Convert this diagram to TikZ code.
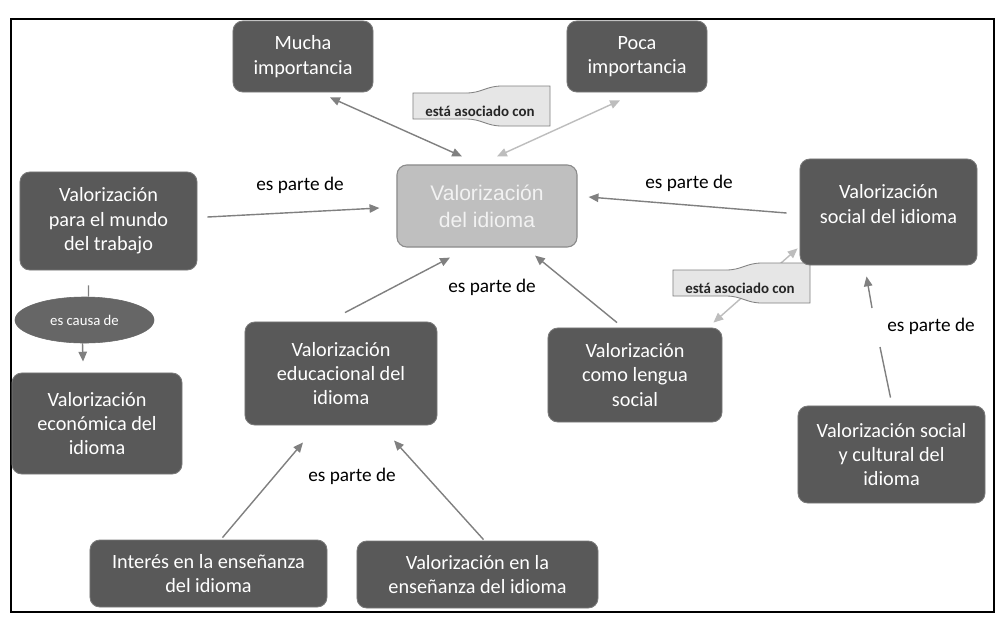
\documentclass[tikz,border=0pt]{standalone}
\usepackage{fontspec}
\setmainfont{Carlito}
\newfontfamily\arialfont{Liberation Sans}
\usetikzlibrary{positioning, shapes.geometric, arrows.meta, calc, backgrounds}
\definecolor{mapDark}{HTML}{595959}
\definecolor{mapOval}{HTML}{666666}
\definecolor{mapCenter}{HTML}{BFBFBF}
\definecolor{mapCenterLine}{HTML}{8C8C8C}
\definecolor{mapCenterText}{HTML}{F2F2F2}
\definecolor{mapArrow}{HTML}{808080}
\definecolor{mapArrowSoft}{HTML}{BDBDBD}
\definecolor{mapBanner}{HTML}{E6E6E6}

% wavy flag round a linking phrase
\newcommand{\bannerOutline}[1]{%
  \draw[cmBannerLine] ($(#1)+(-1.675cm,0.45cm)$) -- ($(#1)+(-0.35cm,0.45cm)$)
    .. controls ($(#1)+(0.05cm,0.45cm)$) and ($(#1)+(0.15cm,0.625cm)$) .. ($(#1)+(0.55cm,0.625cm)$)
    -- ($(#1)+(1.75cm,0.625cm)$) -- ($(#1)+(1.75cm,-0.375cm)$) -- ($(#1)+(0.55cm,-0.375cm)$)
    .. controls ($(#1)+(0.15cm,-0.375cm)$) and ($(#1)+(0.05cm,-0.2cm)$) .. ($(#1)+(-0.35cm,-0.2cm)$)
    -- ($(#1)+(-1.675cm,-0.2cm)$) -- cycle;}

\begin{document}
\begin{tikzpicture}[
    x=0.025cm, y=-0.025cm,
    >={Triangle[length=7pt,width=6pt]},
    cmBox/.style={draw=mapDark!80!white, line width=0.6pt, rectangle, rounded corners=7pt, fill=mapDark, text=white, align=center, font=\fontsize{14.4}{17.4}\selectfont},
    cmCenter/.style={draw=mapCenterLine, line width=0.8pt, rectangle, rounded corners=7pt, fill=mapCenter, text=mapCenterText, align=center, font=\arialfont\fontsize{15}{19}\selectfont},
    cmOval/.style={draw=mapOval, ellipse, fill=mapOval, text=white, inner sep=0pt, font=\fontsize{10.5}{12}\selectfont},
    cmLabel/.style={font=\fontsize{13.7}{16}\selectfont, text=black},
    cmBannerText/.style={font=\bfseries\fontsize{10.6}{12}\selectfont, text=black!85, inner sep=1pt},
    cmBannerLine/.style={draw=mapArrow, line width=0.6pt, fill=mapBanner},
    cmArrow/.style={draw=mapArrow, line width=1pt},
    cmArrowSoft/.style={draw=mapArrowSoft, line width=1pt},
]
\useasboundingbox (0,0) rectangle (1006,641);
\draw[line width=1.2pt] (11,19) rectangle (994,612);
% concepts
\node[cmBox, minimum width=3.5cm, minimum height=1.775cm] (mucha) at (303,56.5) {Mucha\\importancia};
\node[cmBox, minimum width=3.5cm, minimum height=1.775cm] (poca) at (637,56.5) {Poca\\importancia};
\node[cmCenter, minimum width=4.5cm, minimum height=2.05cm] (centro) at (487,206) {Valorización\\del idioma};
\node[cmBox, minimum width=4.425cm, minimum height=2.45cm] (trabajo) at (108.5,221) {Valorización\\para el mundo\\del trabajo};
\node[cmOval, minimum width=3.475cm, minimum height=1.15cm] (causa) at (84.5,320) {es causa de};
\node[cmBox, minimum width=4.25cm, minimum height=2.525cm] (econ) at (97,423.5) {Valorización\\económica del\\idioma};
\node[cmBox, minimum width=4.8cm, minimum height=2.575cm] (educ) at (341,373.5) {Valorización\\educacional del\\idioma};
\node[cmBox, minimum width=4.35cm, minimum height=2.35cm] (lengua) at (635,375) {Valorización\\como lengua\\social};
\node[cmBox, minimum width=4.425cm, minimum height=2.65cm, text depth=0.4cm] (social) at (888.5,212) {Valorización\\social del idioma};
\node[cmBox, minimum width=4.675cm, minimum height=2.425cm] (cultural) at (891.5,454.5) {Valorización social\\y cultural del\\idioma};
\node[cmBox, minimum width=5.925cm, minimum height=1.675cm] (interes) at (208.5,573.5) {Interés en la enseñanza\\del idioma};
\node[cmBox, minimum width=6.025cm, minimum height=1.675cm] (ensen) at (477.5,574.5) {Valorización en la\\enseñanza del idioma};
% linking phrases
\node[cmBannerText] (asocA) at (480,111) {está asociado con};
\node[cmBannerText] (asocB) at (740,288) {está asociado con};
\node[cmLabel] (lblTrabajo) at (300,185) {es parte de};
\node[cmLabel] (lblSocial) at (689,183) {es parte de};
\node[cmLabel] (lblCentro) at (492,287) {es parte de};
\node[cmLabel] (lblCultural) at (931,326) {es parte de};
\node[cmLabel] (lblEduc) at (352,476) {es parte de};
\coordinate (gapLow) at (880,347);
\coordinate (gapHigh) at (872,308);
% connectors
\begin{scope}[on background layer]
\fill[white] (0,0) rectangle (1006,641);
\draw[cmArrow, <->] ([shift={(0.675cm,-0.125cm)}]mucha.south) -- ([shift={(-0.625cm,0.2cm)}]centro.north);
\draw[cmArrowSoft, <->] ([shift={(-0.425cm,-0.2cm)}]poca.south) -- ([shift={(0.25cm,0.2cm)}]centro.north);
\draw[cmArrow, ->] ([shift={(0.25cm,0.1cm)}]trabajo.east) -- ([shift={(-0.425cm,-0.05cm)}]centro.west);
\draw[cmArrow, ->] ([shift={(-0.325cm,-0.025cm)}]social.west) -- ([shift={(0.275cm,0.225cm)}]centro.east);
\draw[cmArrow, ->] ([shift={(-0.45cm,0.125cm)}]lengua.north) -- ([shift={(1.2cm,-0.2cm)}]centro.south);
\draw[cmArrow, ->] ([shift={(0.1cm,0.225cm)}]educ.north) -- ([shift={(-0.925cm,-0.25cm)}]centro.south);
\draw[cmArrow, ->] ([shift={(0.35cm,0.05cm)}]interes.north) -- ([shift={(-0.95cm,-0.425cm)}]educ.south);
\draw[cmArrow, ->] ([shift={(0.15cm,0.025cm)}]ensen.north) -- ([shift={(1.325cm,-0.375cm)}]educ.south);
\draw[cmArrow] ([shift={(-0.5cm,-0.375cm)}]trabajo.south) -- ([xshift=0.1cm]causa.north);
\draw[cmArrow, ->] ([xshift=-0.05cm]causa.south) -- ([shift={(-0.35cm,0.275cm)}]econ.north);
\draw[cmArrow] ([shift={(-0.025cm,0.2cm)}]cultural.north) -- (gapLow);
\draw[cmArrow, ->] (gapHigh) -- ([shift={(-0.55cm,-0.275cm)}]social.south);
\draw[cmArrowSoft, <->] ([shift={(-0.225cm,0.125cm)}]lengua.north east) -- ([shift={(-0.05cm,0.425cm)}]social.south west);
\bannerOutline{asocA}
\bannerOutline{asocB}
\end{scope}
\end{tikzpicture}
\end{document}
